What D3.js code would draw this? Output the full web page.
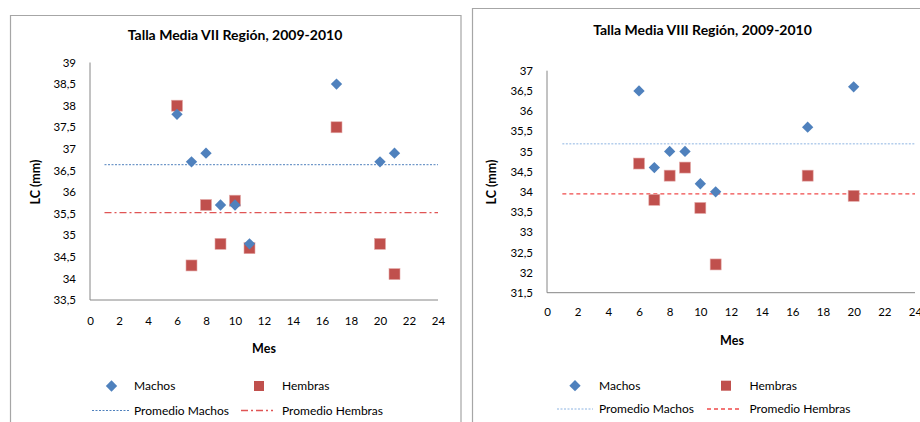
<!DOCTYPE html>
<html><head><meta charset="utf-8">
<script src="https://cdn.jsdelivr.net/npm/d3@7"></script>
<style>
body{margin:0;background:#fff;}
svg{display:block;font-family:Lato,"Open Sans",sans-serif;}
</style></head>
<body>
<svg id="c" width="920" height="422"></svg>
<script>
// ---- data ----
const meses7 = [6,7,8,9,10,11,17,20,21];
const machos7 = [37.8,36.7,36.9,35.7,35.7,34.8,38.5,36.7,36.9];
const hembras7 = [38,34.3,35.7,34.8,35.8,34.7,37.5,34.8,34.1];
const meses8 = [6,7,8,9,10,11,17,20];
const machos8 = [36.5,34.6,35,35,34.2,34,35.6,36.6];
const hembras8 = [34.7,33.8,34.4,34.6,33.6,32.2,34.4,33.9];
const xTicks = [0,2,4,6,8,10,12,14,16,18,20,22,24];
const yTicks7 = [33.5,34,34.5,35,35.5,36,36.5,37,37.5,38,38.5,39];
const yTicks8 = [31.5,32,32.5,33,33.5,34,34.5,35,35.5,36,36.5,37];
const promedioRange = [1,24];
const titles = ["Talla Media VII Región, 2009-2010","Talla Media VIII Región, 2009-2010"];

const svg = d3.select("#c");
const fmt = d => String(d).replace(".", ",");
const blue = "#4F81BD", red = "#C0504D";

function chart(cfg){
  const g = svg.append("g");
  g.append("path").attr("d", cfg.frame).attr("fill","none").attr("stroke","#A6A6A6").attr("stroke-width",1.2);
  g.append("text").attr("x",cfg.titleX).attr("y",cfg.titleY).attr("text-anchor","middle")
    .attr("font-weight","bold").attr("font-size",14).attr("fill","#000").text(cfg.title);
  const x = d3.scaleLinear().domain([0,24]).range([cfg.x0,cfg.x1]);
  const y = d3.scaleLinear().domain(cfg.yDom).range([cfg.y0,cfg.y1]);
  const ax = g.append("g").attr("transform",`translate(0,${cfg.y0})`)
    .call(d3.axisBottom(x).tickValues(xTicks).tickSize(0).tickPadding(cfg.xPad).tickFormat(fmt));
  const ay = g.append("g").attr("transform",`translate(${cfg.x0},0)`)
    .call(d3.axisLeft(y).tickValues(cfg.yTicks).tickSize(0).tickPadding(cfg.yPad).tickFormat(fmt));
  [ax,ay].forEach(a=>{
    a.select(".domain").attr("stroke","#868686").attr("stroke-width",1);
    a.selectAll("text").attr("font-size",11.5).attr("fill","#000").attr("font-family","Lato,'Open Sans',sans-serif");
  });
  ax.select(".domain").attr("d",`M${cfg.x0},0H${cfg.x1}`);
  ay.select(".domain").attr("d",`M0,${cfg.y0}V${cfg.y1}`);
  g.append("text").attr("x",cfg.mesX).attr("y",cfg.mesY).attr("text-anchor","middle")
    .attr("font-weight","bold").attr("font-size",12.5).text("Mes");
  g.append("text").attr("transform",`translate(${cfg.lcX},${cfg.lcY}) rotate(-90)`).attr("text-anchor","middle")
    .attr("font-weight","bold").attr("font-size",12.5).text("LC (mm)");
  const mM = d3.mean(cfg.machos), mH = d3.mean(cfg.hembras);
  const clip = "clip"+cfg.id;
  g.append("clipPath").attr("id",clip).append("rect").attr("x",0).attr("y",0).attr("width",cfg.clipR).attr("height",422);
  const lines = g.append("g").attr("clip-path",`url(#${clip})`);
  lines.append("line").attr("x1",x(promedioRange[0])).attr("x2",x(promedioRange[1]))
    .attr("y1",y(mM)).attr("y2",y(mM)).attr("stroke",cfg.mColor).attr("stroke-width",1).attr("stroke-dasharray",cfg.mDash);
  lines.append("line").attr("x1",x(promedioRange[0])).attr("x2",x(promedioRange[1]))
    .attr("y1",y(mH)).attr("y2",y(mH)).attr("stroke",cfg.hColor).attr("stroke-width",1.3).attr("stroke-dasharray",cfg.hDash);
  const diamond = d3.symbol().type(d3.symbolSquare).size(64);
  g.selectAll(".h").data(cfg.meses).join("rect")
    .attr("x",(d,i)=>x(d)-5.5).attr("y",(d,i)=>y(cfg.hembras[i])-5.5).attr("width",11).attr("height",11)
    .attr("fill",red).attr("stroke","#E3A9A7").attr("stroke-width",0.6);
  g.selectAll(".m").data(cfg.meses).join("path")
    .attr("d",diamond).attr("transform",(d,i)=>`translate(${x(d)},${y(cfg.machos[i])}) rotate(45)`)
    .attr("fill",blue);
  const L = cfg.leg;
  g.append("path").attr("d",diamond).attr("transform",`translate(${L.dx},${L.r1}) rotate(45)`).attr("fill",blue);
  g.append("rect").attr("x",L.sx-5).attr("y",L.r1-5).attr("width",10).attr("height",10).attr("fill",red);
  g.append("line").attr("x1",L.l1a).attr("x2",L.l1b).attr("y1",L.r2).attr("y2",L.r2)
    .attr("stroke",cfg.mColor).attr("stroke-width",1).attr("stroke-dasharray",cfg.mDash);
  g.append("line").attr("x1",L.l2a).attr("x2",L.l2b).attr("y1",L.r2).attr("y2",L.r2)
    .attr("stroke",cfg.hColor).attr("stroke-width",1.3).attr("stroke-dasharray",cfg.hDash);
  const lt = [["Machos",L.t1,L.r1],["Hembras",L.t2,L.r1],["Promedio Machos",L.t1,L.r2],["Promedio Hembras",L.t2,L.r2]];
  g.selectAll(".lt").data(lt).join("text").attr("x",d=>d[1]).attr("y",d=>d[2]).attr("dy","0.35em")
    .attr("font-size",12).attr("fill","#000").text(d=>d[0]);
}

chart({id:1,title:titles[0],frame:"M10.5,430V15.5H461V430",titleX:235,titleY:40,
  x0:90,x1:438,y0:300,y1:62.5,yDom:[33.5,39],yTicks:yTicks7,xPad:17,yPad:14,
  mesX:264,mesY:353,lcX:40,lcY:182,meses:meses7,machos:machos7,hembras:hembras7,
  mColor:"#4F81BD",mDash:"2,1.5",hColor:"#E05555",hDash:"7,3,2,3",clipR:460,
  leg:{r1:386,r2:410.5,dx:111.5,sx:259,t1:134,t2:282,l1a:92,l1b:129,l2a:241,l2b:273}});

chart({id:2,title:titles[1],frame:"M472.5,430V8.5H925",titleX:702.5,titleY:35,
  x0:547,x1:915,y0:292.7,y1:70.7,yDom:[31.5,37],yTicks:yTicks8,xPad:15,yPad:14,
  mesX:732,mesY:345,lcX:496,lcY:182,meses:meses8,machos:machos8,hembras:hembras8,
  mColor:"#8DB4E2",mDash:"2,1.5",hColor:"#F04A4A",hDash:"4,3",clipR:920,
  leg:{r1:385.7,r2:409,dx:575,sx:726,t1:599,t2:749.5,l1a:557,l1b:593,l2a:707,l2b:742}});
</script>
</body></html>
